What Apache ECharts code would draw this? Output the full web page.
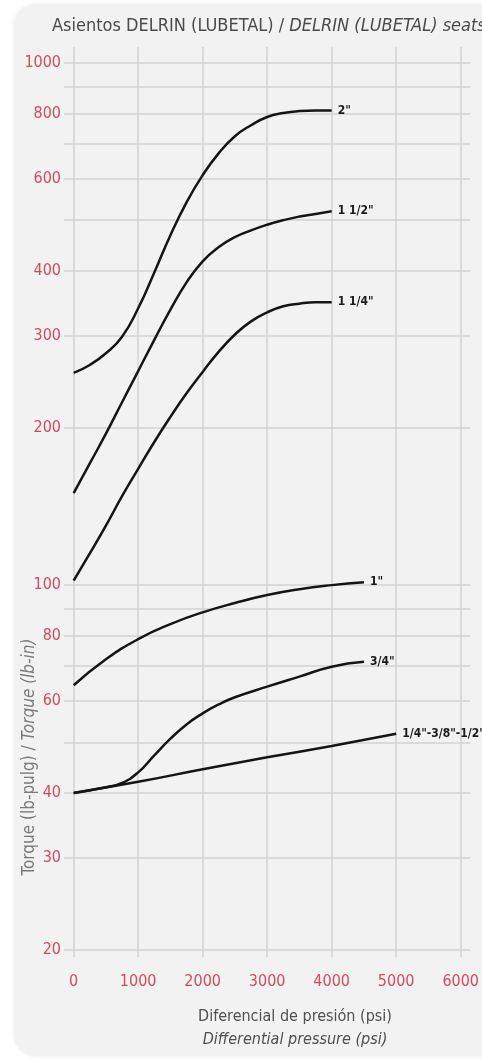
<!DOCTYPE html>
<html>
<head>
<meta charset="utf-8">
<script src="https://cdn.jsdelivr.net/npm/echarts@6/dist/echarts.min.js"></script>
<style>
  html, body { margin: 0; padding: 0; background: #fff; }
  #panel { position: absolute; left: 14px; top: 4px; width: 490px; height: 1052px; background: #f2f2f2; border-radius: 22px; box-shadow: 0 0 4px rgba(0,0,0,0.08); }
  #chart { position: absolute; left: 0; top: 0; width: 482px; height: 1060px; }
</style>
</head>
<body>
<div id="panel"></div>
<div id="chart"></div>
<script>
// pressure points (psi)
const psiTop = [0, 250, 500, 750, 1000, 1250, 1500, 1750, 2000, 2250, 2500, 2750, 3000, 3250, 3500, 3750, 4000];
const psi1in = [0, 500, 1000, 1500, 2000, 2500, 3000, 3500, 4000, 4500];
const psi34 = [0, 500, 750, 1000, 1250, 1500, 1750, 2000, 2250, 2500, 3000, 3500, 4000, 4500];
const psiSmall = [0, 1000, 2000, 3000, 4000, 5000];

// torque (lb-in)
const torque2 = [255, 264, 278, 299, 339, 397, 468, 541, 610, 672, 724, 760, 788, 802, 809, 811, 811];
const torque112 = [150, 171, 195, 224, 257, 295, 337, 380, 417, 444, 464, 478, 490, 500, 508, 514, 520];
const torque114 = [102, 115, 130, 148, 167, 188, 210, 233, 256, 280, 302, 320, 333, 342, 346, 348, 348];
const torque1 = [64.3, 72.1, 78.8, 84.2, 88.7, 92.4, 95.7, 98.2, 100, 101.3];
const torque34 = [40, 41, 41.8, 43.8, 47.2, 50.8, 54.1, 56.8, 59.1, 61.0, 63.9, 66.8, 69.8, 71.3];
const torqueSmall = [40, 42, 44.4, 46.8, 49.2, 51.9];

const xTicks = [0, 1000, 2000, 3000, 4000, 5000, 6000];
const yLabels = [20, 30, 40, 60, 80, 100, 200, 300, 400, 600, 800, 1000];
const yGrid = [20, 30, 40, 50, 60, 70, 80, 90, 100, 200, 300, 400, 500, 600, 700, 800, 900, 1000];

const narrow = "'Liberation Sans Narrow', 'DejaVu Sans Condensed', sans-serif";
const red = '#d64a5e';

function pairs(xs, ys) {
  return ys.map((v, i) => [xs[i], v]);
}

function curve(name, xs, ys) {
  return {
    name: name,
    type: 'line',
    smooth: 0.5,
    symbol: 'none',
    data: pairs(xs, ys),
    lineStyle: { color: '#151515', width: 2.5 },
    endLabel: {
      show: true,
      formatter: name,
      distance: 6,
      color: '#1a1a1a',
      fontFamily: narrow,
      fontWeight: 'bold',
      fontSize: 12
    },
    z: 3
  };
}

const chart = echarts.init(document.getElementById('chart'), null, { renderer: 'canvas' });
chart.setOption({
  backgroundColor: 'transparent',
  animation: false,
  title: {
    text: '{a|Asientos DELRIN (LUBETAL) / }{b|DELRIN (LUBETAL) seats}',
    left: 47,
    top: 12,
    textStyle: {
      rich: {
        a: { fontFamily: narrow, fontSize: 18, fontWeight: 'normal', color: '#4a4a4a' },
        b: { fontFamily: narrow, fontSize: 18, fontWeight: 'normal', color: '#4a4a4a', fontStyle: 'italic' }
      }
    }
  },
  grid: { left: 64, right: 9, top: 47, bottom: 103 },
  xAxis: {
    type: 'value',
    min: -150,
    max: 6150,
    axisLine: { show: false },
    axisTick: { show: false, customValues: xTicks },
    axisLabel: {
      customValues: xTicks,
      formatter: v => String(v),
      color: red,
      fontFamily: narrow,
      fontSize: 16,
      margin: 17
    },
    splitLine: { show: true, lineStyle: { color: '#d2d2d2', width: 1.5 } }
  },
  yAxis: {
    type: 'log',
    logBase: 10,
    min: 19.4,
    max: 1073,
    axisLine: { show: false },
    axisTick: { show: false, customValues: yGrid },
    axisLabel: {
      customValues: yLabels,
      formatter: v => String(Math.round(v)),
      color: red,
      fontFamily: narrow,
      fontSize: 16,
      margin: 3
    },
    splitLine: { show: true, lineStyle: { color: '#d2d2d2', width: 1.5 } }
  },
  graphic: [
    {
      type: 'text',
      x: 30,
      y: 757,
      rotation: Math.PI / 2,
      style: {
        text: '{a|Torque (lb-pulg) / }{b|Torque (lb-in)}',
        align: 'center',
        verticalAlign: 'middle',
        rich: {
          a: { fontFamily: narrow, fontSize: 17, fill: '#7a7a7a' },
          b: { fontFamily: narrow, fontSize: 17, fill: '#7a7a7a', fontStyle: 'italic' }
        }
      }
    },
    {
      type: 'text',
      x: 295,
      y: 1017,
      style: {
        text: 'Diferencial de presión (psi)',
        align: 'center',
        verticalAlign: 'middle',
        font: '16px ' + narrow,
        fill: '#4f4f4f'
      }
    },
    {
      type: 'text',
      x: 295,
      y: 1040,
      style: {
        text: 'Differential pressure (psi)',
        align: 'center',
        verticalAlign: 'middle',
        font: 'italic 16px ' + narrow,
        fill: '#4f4f4f'
      }
    }
  ],
  series: [
    curve('2"', psiTop, torque2),
    curve('1 1/2"', psiTop, torque112),
    curve('1 1/4"', psiTop, torque114),
    curve('1"', psi1in, torque1),
    curve('3/4"', psi34, torque34),
    curve('1/4"-3/8"-1/2"', psiSmall, torqueSmall)
  ]
});
</script>
</body>
</html>
